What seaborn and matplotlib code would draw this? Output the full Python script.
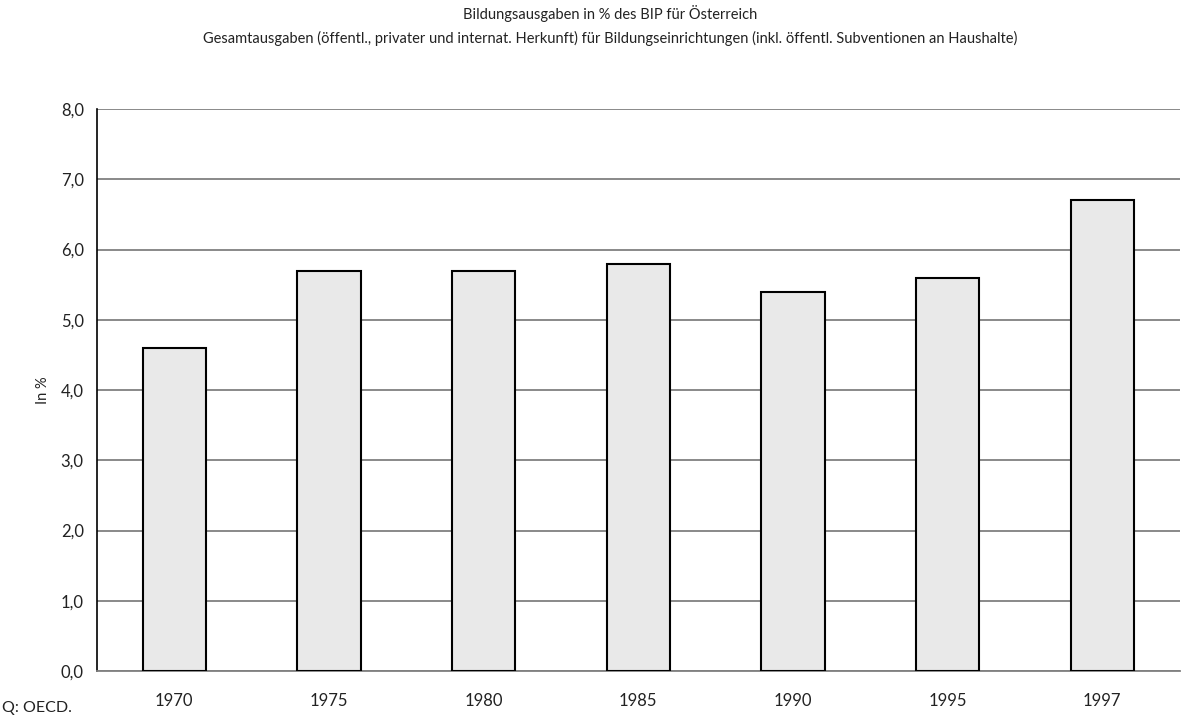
import numpy as np
import pandas as pd
import matplotlib
matplotlib.use('Agg')
import matplotlib.pyplot as plt
import seaborn as sns
from matplotlib.ticker import FuncFormatter, FixedLocator

# Datos
years = ['1970', '1975', '1980', '1985', '1990', '1995', '1997']
values = [4.6, 5.7, 5.7, 5.8, 5.4, 5.6, 6.7]

title1 = 'Bildungsausgaben in % des BIP für Österreich'
title2 = ('Gesamtausgaben (öffentl., privater und internat. Herkunft) für Bildungseinrichtungen '
          '(inkl. öffentl. Subventionen an Haushalte)')

df = pd.DataFrame({'Jahr': years, 'Wert': values})

sns.set_style('white')
plt.rcParams['font.family'] = ['Lato', 'DejaVu Sans']

fig = plt.figure(figsize=(11.81, 7.2), dpi=100)
ax = fig.add_axes([0.0821, 0.068, 0.9167, 0.7806])

sns.barplot(data=df, x='Jahr', y='Wert', color='#e9e9e9', width=0.41,
            edgecolor='black', linewidth=1.5, saturation=1, ax=ax, zorder=3)

ax.set_ylim(0, 8)
ax.set_xlim(-0.5, len(years) - 0.5)
ax.set_yticks(np.arange(0, 8.1, 1))
ax.yaxis.set_major_formatter(FuncFormatter(lambda v, p: f'{v:.1f}'.replace('.', ',')))
ax.grid(axis='y', color='#808080', linewidth=1.3, zorder=0)
ax.set_axisbelow(True)

# Ticks an Kategoriegrenzen
ax.xaxis.set_minor_locator(FixedLocator(np.arange(0.5, len(years) - 1, 1)))
ax.tick_params(axis='x', which='major', length=0, pad=16, labelsize=12, colors='#222222')
ax.tick_params(axis='x', which='minor', length=5, width=1, color='#808080', direction='out')
ax.tick_params(axis='y', length=6, width=1, direction='out', labelsize=12,
               colors='#222222')
ax.tick_params(axis='y', color='#808080')

for s in ['top', 'right']:
    ax.spines[s].set_visible(False)
ax.spines['left'].set_color('black')
ax.spines['left'].set_linewidth(1.2)
ax.spines['bottom'].set_color('#808080')
ax.spines['bottom'].set_linewidth(1.3)

ax.set_xlabel('')
ax.set_ylabel('In %', fontsize=10.5, color='#222222', labelpad=8)

fig.text(0.517, 0.981, title1, ha='center', va='center', fontsize=10.5, color='#222222')
fig.text(0.517, 0.946, title2, ha='center', va='center', fontsize=10.5, color='#222222')
fig.text(0.002, 0.016, 'Q: OECD.', ha='left', va='center', fontsize=11.5, color='#222222')

fig.savefig('out.png', dpi=100)
